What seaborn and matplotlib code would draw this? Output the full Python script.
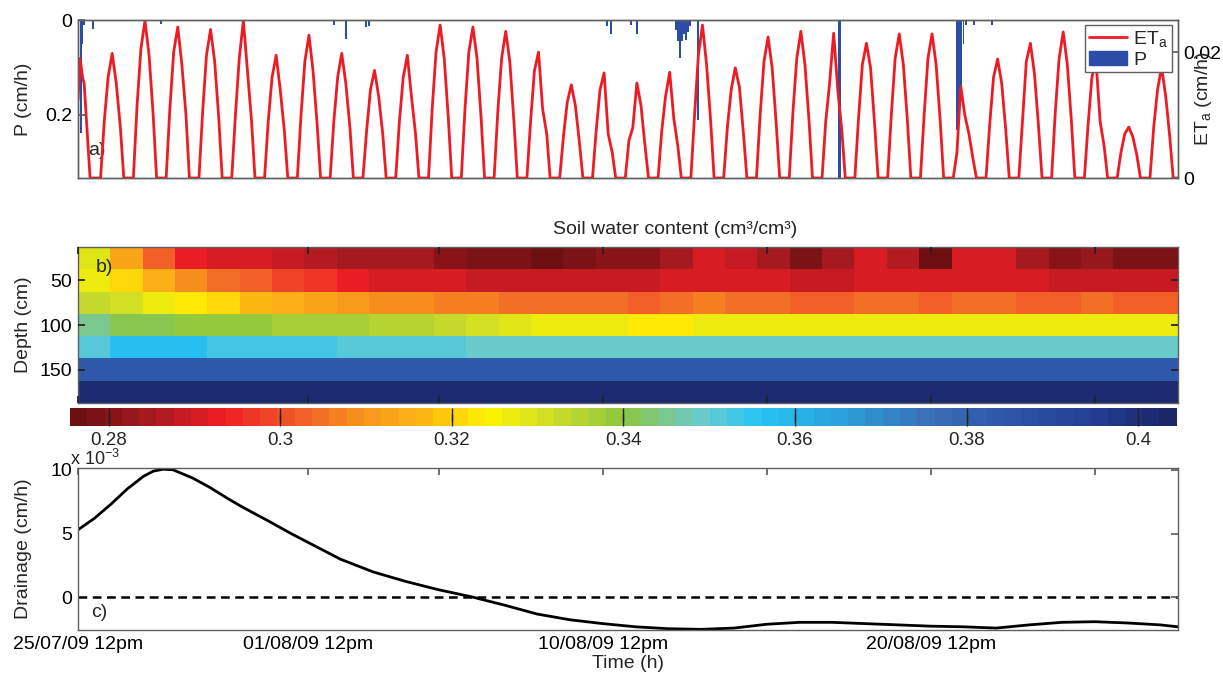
import matplotlib
matplotlib.use("Agg")
import matplotlib.pyplot as plt
import pandas as pd
import seaborn as sns
from matplotlib.colors import LinearSegmentedColormap
from matplotlib.lines import Line2D
from matplotlib.patches import Patch

sns.set_theme(style="white")
plt.rcParams['font.family'] = ['Liberation Sans', 'DejaVu Sans']
plt.rcParams['mathtext.fontset'] = 'custom'
plt.rcParams['mathtext.rm'] = 'Liberation Sans'
plt.rcParams['mathtext.it'] = 'Liberation Sans'
plt.rcParams['axes.axisbelow'] = False

# ---- time axis (hours since 25/07/09 12pm) ----
t_end = 805
tick_hours = [0, 168, 264, 384, 504, 624, 744]
tick_labels = ['25/07/09 12pm', '01/08/09 12pm', '', '10/08/09 12pm', '', '20/08/09 12pm', '']

# ---- a) precipitation (cm/h) ----
p_hours = [2, 3, 4.5, 11, 60.5, 187, 196, 211, 213, 387, 390, 405, 409,
           437.5, 439, 440.5, 442, 443.5, 445, 446.5, 448, 454, 557, 558,
           643.5, 645, 646.5, 648, 650, 656, 669]
p_vals = [0.238, 0.05, 0.01, 0.019, 0.009, 0.01, 0.04, 0.015, 0.012, 0.012, 0.03, 0.01, 0.03,
          0.02, 0.045, 0.08, 0.045, 0.03, 0.042, 0.025, 0.012, 0.21, 0.333, 0.333,
          0.232, 0.20, 0.15, 0.05, 0.01, 0.01, 0.01]

# ---- a) actual evapotranspiration (cm/h) ----
eta_day0_hours = [0, 1.5, 3.4, 4.5, 6.8, 8.8]
eta_day0 = [0.0124, 0.0190, 0.0159, 0.0150, 0.0071, 0.0]
# sample hours relative to noon of each following day
eta_offsets = [-7.5, -4.8, -2, 1, 4, 7, 9.5]
eta_daily = [
    [0.0090, 0.0160, 0.0198, 0.0150, 0.0080],
    [0.0115, 0.0205, 0.0250, 0.0195, 0.0100],
    [0.0110, 0.0200, 0.0240, 0.0180, 0.0100],
    [0.0105, 0.0195, 0.0236, 0.0185, 0.0095],
    [0.0100, 0.0190, 0.0250, 0.0170, 0.0090],
    [0.0090, 0.0160, 0.0195, 0.0140, 0.0075],
    [0.0100, 0.0185, 0.0227, 0.0170, 0.0085],
    [0.0090, 0.0160, 0.0198, 0.0150, 0.0080],
    [0.0075, 0.0140, 0.0171, 0.0130, 0.0070],
    [0.0090, 0.0160, 0.0195, 0.0130, 0.0070],
    [0.0110, 0.0200, 0.0243, 0.0190, 0.0095],
    [0.0110, 0.0200, 0.0240, 0.0190, 0.0095],
    [0.0105, 0.0190, 0.0233, 0.0185, 0.0090],
    [0.0090, 0.0170, 0.0200, 0.0110, 0.0070],
    [0.0065, 0.0120, 0.0148, 0.0115, 0.0055],
    [0.0075, 0.0140, 0.0167, 0.0070, 0.0040],
    [0.0060, 0.0080, 0.0151, 0.0115, 0.0050],
    [0.0075, 0.0130, 0.0168, 0.0095, 0.0050],
    [0.0100, 0.0195, 0.0243, 0.0180, 0.0090],
    [0.0080, 0.0140, 0.0175, 0.0145, 0.0070],
    [0.0100, 0.0185, 0.0224, 0.0175, 0.0085],
    [0.0105, 0.0190, 0.0233, 0.0180, 0.0090],
    [0.0090, 0.0150, 0.0230, 0.0140, 0.0075],
    [0.0095, 0.0180, 0.0214, 0.0175, 0.0085],
    [0.0100, 0.0190, 0.0229, 0.0180, 0.0090],
    [0.0100, 0.0190, 0.0229, 0.0180, 0.0090],
    [0.0040, 0.0146, 0.0100, 0.0070, 0.0030],
    [0.0085, 0.0160, 0.0189, 0.0150, 0.0075],
    [0.0090, 0.0185, 0.0214, 0.0165, 0.0080],
    [0.0105, 0.0190, 0.0232, 0.0180, 0.0090],
    [0.0085, 0.0160, 0.0187, 0.0090, 0.0050],
    [0.0040, 0.0070, 0.0081, 0.0065, 0.0035],
    [0.0080, 0.0140, 0.0176, 0.0130, 0.0065],
]

# ---- b) soil water content (cm3/cm3), one column per ~day ----
depths = [25, 50, 75, 100, 125, 150, 175]
swc_25 = [0.329, 0.313, 0.302, 0.293, 0.291, 0.291, 0.289, 0.286, 0.285, 0.284, 0.285, 0.281,
          0.279, 0.278, 0.276, 0.278, 0.281, 0.280, 0.285, 0.291, 0.289, 0.284, 0.279, 0.285,
          0.291, 0.287, 0.277, 0.290, 0.290, 0.284, 0.281, 0.282, 0.279, 0.278]
swc_50 = [0.326, 0.321, 0.314, 0.309, 0.305, 0.302, 0.299, 0.296, 0.293, 0.291, 0.291, 0.290,
          0.289, 0.288, 0.288, 0.288, 0.289, 0.289, 0.290, 0.291, 0.291, 0.290, 0.289, 0.289,
          0.291, 0.291, 0.290, 0.291, 0.291, 0.290, 0.289, 0.289, 0.288, 0.288]
swc_75 = [0.332, 0.330, 0.327, 0.323, 0.320, 0.317, 0.315, 0.312, 0.310, 0.309, 0.308, 0.307,
          0.306, 0.305, 0.305, 0.304, 0.304, 0.303, 0.305, 0.306, 0.304, 0.305, 0.303, 0.303,
          0.305, 0.304, 0.303, 0.304, 0.304, 0.303, 0.303, 0.304, 0.303, 0.303]
swc_100 = [0.345, 0.341, 0.340, 0.339, 0.339, 0.338, 0.337, 0.337, 0.336, 0.335, 0.334, 0.332,
           0.331, 0.328, 0.327, 0.326, 0.326, 0.323, 0.323, 0.326, 0.326, 0.326, 0.326, 0.326,
           0.326, 0.326, 0.326, 0.326, 0.326, 0.326, 0.326, 0.326, 0.326, 0.327]
swc_125 = [0.352, 0.357, 0.357, 0.357, 0.353, 0.353, 0.353, 0.353, 0.351, 0.351, 0.351, 0.351,
           0.349, 0.349, 0.349, 0.349, 0.349, 0.349, 0.349, 0.349, 0.349, 0.349, 0.349, 0.349,
           0.349, 0.349, 0.349, 0.349, 0.349, 0.349, 0.349, 0.349, 0.349, 0.349]
swc_150 = [0.384, 0.384, 0.384, 0.384, 0.384, 0.384, 0.384, 0.384, 0.384, 0.384, 0.384, 0.383,
           0.383, 0.383, 0.383, 0.383, 0.383, 0.383, 0.383, 0.383, 0.383, 0.383, 0.383, 0.383,
           0.383, 0.383, 0.383, 0.383, 0.383, 0.383, 0.383, 0.383, 0.383, 0.383]
swc_175 = [0.401] * 34
cbar_ticks = [0.28, 0.30, 0.32, 0.34, 0.36, 0.38, 0.40]
cbar_labels = ['0.28', '0.3', '0.32', '0.34', '0.36', '0.38', '0.4']

# ---- c) drainage (x 1e-3 cm/h) ----
drain_days = [0, 0.5, 1, 1.5, 2, 2.3, 2.6, 2.9, 3.5, 4, 4.6, 5, 5.8, 6.5, 7.1,
              8, 9, 10, 11, 12, 13, 14, 15, 16, 17, 18, 19, 20, 21, 22, 23, 24, 25,
              26, 27, 28, 29, 30, 31, 32, 33, 33.54]
drain_e3 = [5.3, 6.2, 7.3, 8.5, 9.5, 9.9, 10.05, 10.0, 9.35, 8.65, 7.7, 7.1, 6.0, 5.0, 4.2,
            3.0, 2.0, 1.25, 0.6, 0.05, -0.6, -1.3, -1.75, -2.05, -2.3, -2.45, -2.5, -2.4, -2.1,
            -1.95, -1.95, -2.05, -2.15, -2.25, -2.3, -2.4, -2.15, -1.95, -1.9, -2.0, -2.15, -2.3]

red = '#ED1C24'
blue = '#2B4DA6'
gray = '#606060'
fs = 14

# build the ETa series
eta_t = list(eta_day0_hours)
eta_v = list(eta_day0)
for k, vals in enumerate(eta_daily, start=1):
    for off, val in zip(eta_offsets, [0.0] + vals + [0.0]):
        eta_t.append(24 * k + off)
        eta_v.append(val)
eta_t.append(t_end)
eta_v.append(0.0)
df_eta = pd.DataFrame({'time': eta_t, 'eta': eta_v})

df_drain = pd.DataFrame({'time': [d * 24 for d in drain_days], 'drain': drain_e3})
df_swc = pd.DataFrame([swc_25, swc_50, swc_75, swc_100, swc_125, swc_150, swc_175], index=depths)

cmap = LinearSegmentedColormap.from_list('jet_print', [
    (0.00, '#6E0F12'), (0.07, '#A91B20'), (0.13, '#ED1C24'), (0.20, '#F15A29'),
    (0.26, '#F7941D'), (0.32, '#FDB913'), (0.375, '#FFF200'), (0.44, '#C9DB2A'),
    (0.50, '#8DC63F'), (0.57, '#6CCACB'), (0.625, '#27C4F3'), (0.70, '#2AA0DA'),
    (0.78, '#3A6FB7'), (0.85, '#2E56A8'), (0.93, '#233F94'), (1.00, '#1B2568')], N=64)


def style_axes(ax):
    ax.set_axisbelow(False)
    for s in ax.spines.values():
        s.set_visible(True)
        s.set_color(gray)
        s.set_linewidth(1.0)
    ax.tick_params(direction='in', length=5, color=gray, labelsize=fs, labelcolor='black', pad=4)


fig = plt.figure(figsize=(12.23, 6.81), dpi=100)
ax_a = fig.add_axes([0.0638, 0.7386, 0.8994, 0.232])
ax_b = fig.add_axes([0.0638, 0.4082, 0.8994, 0.229])
cax = fig.add_axes([0.0572, 0.3744, 0.905, 0.0264])
ax_c = fig.add_axes([0.0638, 0.0749, 0.8994, 0.238])

# a) P bars (inverted left axis) + ETa line (right axis)
ax_a.bar(p_hours, p_vals, width=1.4, color=blue, linewidth=0)
ax_a.set_xlim(0, t_end)
ax_a.set_ylim(0.333, 0)
ax_a.set_yticks([0, 0.2])
ax_a.set_yticklabels(['0', '0.2'])
ax_a.set_xticks(tick_hours)
ax_a.set_xticklabels([])
ax_a.set_ylabel('P (cm/h)', fontsize=fs)
ax_a.yaxis.set_label_coords(-0.042, 0.5)
style_axes(ax_a)
ax_a.text(0.009, 0.145, 'a)', transform=ax_a.transAxes, fontsize=fs)

ax2 = ax_a.twinx()
sns.lineplot(data=df_eta, x='time', y='eta', ax=ax2, color=red, linewidth=2,
             estimator=None, sort=False)
ax2.set_xlim(0, t_end)
ax2.set_ylim(0, 0.0251)
ax2.set_yticks([0, 0.02])
ax2.set_yticklabels(['0', '0.02'])
ax2.set_xlabel('')
ax2.set_ylabel('ET$_\\mathrm{a}$ (cm/h)', fontsize=fs)
ax2.yaxis.set_label_coords(1.014, 0.5)
style_axes(ax2)
handles = [Line2D([], [], color=red, lw=2, label='ET$_\\mathrm{a}$'),
           Patch(facecolor=blue, edgecolor=blue, label='P')]
leg = ax2.legend(handles=handles, loc='upper right', bbox_to_anchor=(0.9945, 0.968),
                 frameon=True, fancybox=False, edgecolor=gray, framealpha=1, fontsize=fs,
                 handlelength=2.0, borderpad=0.2, labelspacing=0.1, handletextpad=0.3,
                 borderaxespad=0)
leg.get_frame().set_linewidth(1.0)

# b) soil water content heatmap
sns.heatmap(df_swc, ax=ax_b, cmap=cmap, vmin=0.2755, vmax=0.4045, cbar_ax=cax,
            cbar_kws={'orientation': 'horizontal', 'ticks': cbar_ticks},
            xticklabels=False, yticklabels=False)
ncol = len(swc_25)
ax_b.set_xticks([h / t_end * ncol for h in tick_hours])
ax_b.set_xticklabels([])
ax_b.set_yticks([1.5, 3.5, 5.5])
ax_b.set_yticklabels(['50', '100', '150'], rotation=0)
ax_b.set_ylabel('Depth (cm)', fontsize=fs)
ax_b.yaxis.set_label_coords(-0.042, 0.5)
style_axes(ax_b)
ax_b.tick_params(top=True, right=True, bottom=True, left=True, length=5, color='#222222')
ax_b.text(0.016, 0.87, 'b)', transform=ax_b.transAxes, fontsize=fs, va='center')

cbar = ax_b.collections[0].colorbar
cax.set_axisbelow(False)
cax.set_xticks(cbar_ticks)
cax.set_xticklabels(cbar_labels)
cax.tick_params(direction='in', top=True, bottom=True, length=9, width=1, color='#222222',
                labelsize=fs - 0.5, pad=4)
if cbar is not None:
    cbar.outline.set_edgecolor(gray)
fig.text(0.552, 1 - 230 / 681, 'Soil water content (cm³/cm³)', ha='center', va='center',
         fontsize=fs)

# c) drainage
sns.lineplot(data=df_drain, x='time', y='drain', ax=ax_c, color='black', linewidth=2,
             estimator=None, sort=False)
ax_c.axhline(0, color='black', linestyle=(0, (3.5, 2.2)), linewidth=1.8)
ax_c.set_xlim(0, t_end)
ax_c.set_ylim(-2.55, 10.15)
ax_c.set_yticks([0, 5, 10])
ax_c.set_yticklabels(['0', '5', '10'])
ax_c.set_xticks(tick_hours)
ax_c.set_xticklabels(tick_labels)
ax_c.set_xlabel('Time (h)', fontsize=fs, labelpad=2)
ax_c.set_ylabel('Drainage (cm/h)', fontsize=fs)
ax_c.yaxis.set_label_coords(-0.042, 0.5)
style_axes(ax_c)
ax_c.tick_params(top=True, right=True)
ax_c.text(-0.007, 0.995, 'x 10$^{-3}$', transform=ax_c.transAxes, fontsize=13, va='bottom')
ax_c.text(0.012, 0.11, 'c)', transform=ax_c.transAxes, fontsize=fs, va='center')

fig.savefig('out.png', dpi=100)
